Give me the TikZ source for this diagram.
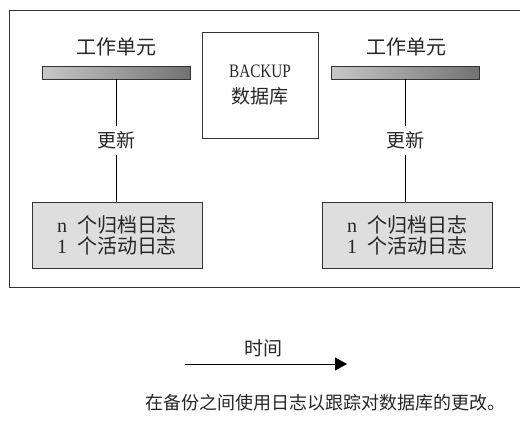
\documentclass[tikz,border=0pt]{standalone}
\usepackage{fontspec}
\setmainfont{Liberation Serif}
\newfontfamily\cjk{Noto Sans CJK SC}
\usetikzlibrary{arrows.meta}

\tikzset{
  unitbar/.style={draw=black!80, line width=0.8pt, minimum width=148pt, minimum height=13pt,
    inner sep=0pt, left color=black!22, right color=black!55},
  unitlabel/.style={font=\fontsize{20}{22}\selectfont\cjk, inner sep=0pt},
  logbox/.style={draw=black!80, line width=0.8pt, fill=black!13, minimum width=170pt,
    minimum height=66pt, align=left, font=\fontsize{20}{21}\selectfont},
  dbbox/.style={draw=black!80, line width=0.8pt, minimum width=116pt, minimum height=106pt,
    align=center, font=\fontsize{19}{26}\selectfont},
  updlabel/.style={fill=white, inner xsep=2pt, inner ysep=6pt, font=\fontsize{19}{21}\selectfont\cjk}
}

\begin{document}
\begin{tikzpicture}[x=1pt, y=-1pt, line width=0.8pt, text=black!85]
  \useasboundingbox (0,0) rectangle (520,437);

  % frame, open to the right
  \draw[black!80] (530,10) -| (9.5,287) -- (530,287);

  % backup database
  \node[dbbox] (backup) at (260,85) {\scalebox{0.8}[1]{BACKUP}\\{\cjk 数据库}};

  % left unit of work
  \node[unitlabel] (unitL) at (116,47) {工作单元};
  \node[unitbar] (barL) at (116,72.5) {};
  \node[logbox] (logL) at (117,235) {n\ \ {\cjk 个归档日志}\\1\ \ {\cjk 个活动日志}};
  \draw (barL.south) -- node[updlabel] (updL) {更新} (barL.south |- logL.north);

  % right unit of work
  \node[unitlabel] (unitR) at (406,47) {工作单元};
  \node[unitbar] (barR) at (405,72.5) {};
  \node[logbox] (logR) at (407,235) {n\ \ {\cjk 个归档日志}\\1\ \ {\cjk 个活动日志}};
  \draw (barR.south) -- node[updlabel] (updR) {更新} (barR.south |- logR.north);

  % time axis
  \coordinate (tStart) at (185,364);
  \coordinate (tEnd) at (347,364);
  \draw[-{Triangle[length=12pt, width=13pt]}] (tStart) -- (tEnd);
  \node[font=\fontsize{19}{21}\selectfont\cjk] (time) at (263,348) {时间};

  % caption
  \node[font=\fontsize{18}{21}\selectfont\cjk] (caption) at (325,403)
    {在备份之间使用日志以跟踪对数据库的更改。};
\end{tikzpicture}
\end{document}
